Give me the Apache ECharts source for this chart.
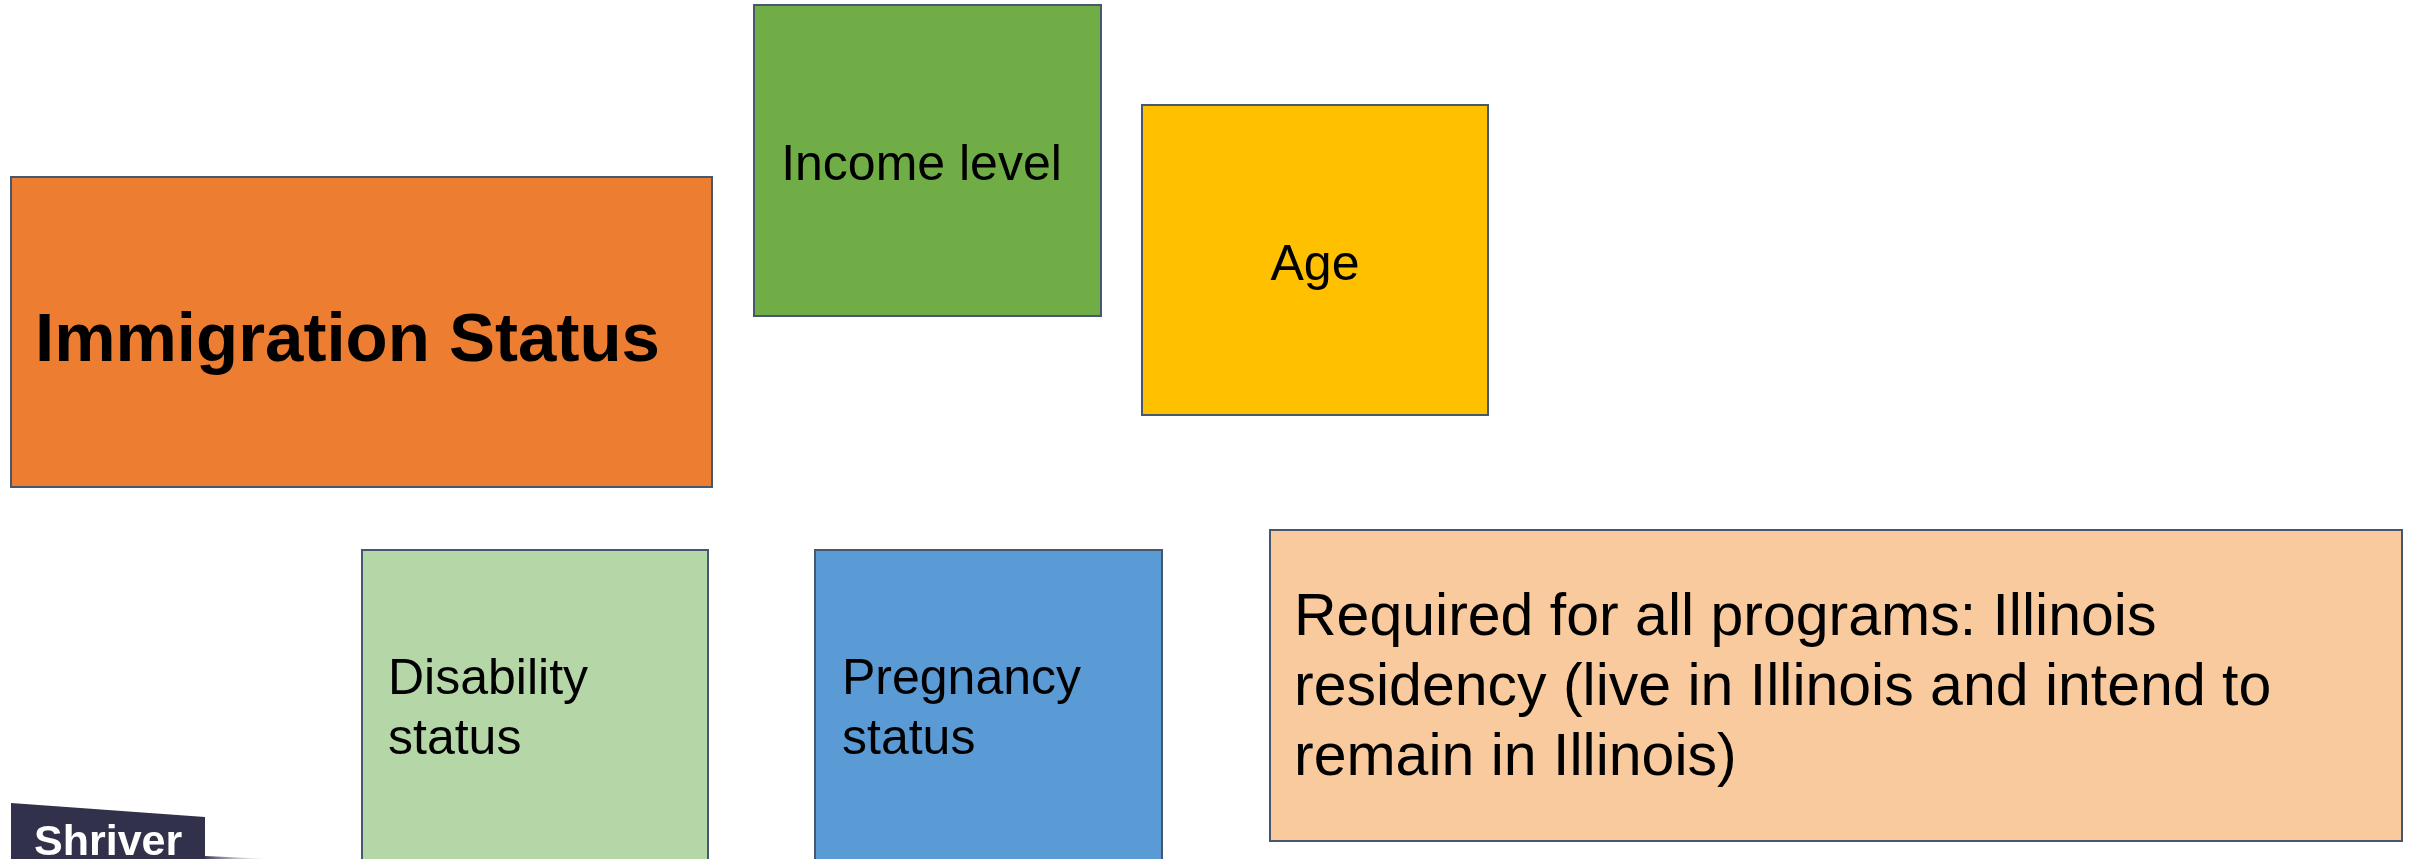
<!DOCTYPE html>
<html>
<head>
<meta charset="utf-8">
<style>
  html, body { margin: 0; padding: 0; background: #ffffff; }
  #chart { width: 2417px; height: 859px; }
</style>
<script src="https://cdn.jsdelivr.net/npm/echarts@6/dist/echarts.min.js"></script>
</head>
<body>
<div id="chart"></div>
<script>
// slide is laid out in its own pixel units, x 0..2417 and y 0..859 (top down)
const labels = [
  "Immigration Status",
  "Income level",
  "Age",
  "Disability\nstatus",
  "Pregnancy\nstatus",
  "Required for all programs: Illinois\nresidency (live in Illinois and intend to\nremain in Illinois)"
];
// box extents: [x0, y0, x1, y1]
const boxes = [
  [11, 177, 712, 487],
  [754, 5, 1101, 316],
  [1142, 105, 1488, 415],
  [362, 550, 708, 866],
  [815, 550, 1162, 866],
  [1270, 530, 2402, 841]
];
const fills = ["#ED7D31", "#70AD47", "#FFC000", "#B5D7A8", "#5B9BD5", "#F8CA9D"];
// how each label sits in its box
const textAlign = ["left", "center", "center", "left", "left", "left"];
const fontSizes = [69, 50, 50, 50, 50, 59];
const lineHeights = [84, 60, 60, 60, 60, 70];
const bold = [true, false, false, false, false, false];
const padLeft = [24, 0, 0, 26, 27, 24];
const nudgeX = [0, -6, 0, 0, 0, 0];
const nudgeY = [10, 6, 6, 2, 2, 3];

const logoText = "Shriver";

const FONT = '"Liberation Sans", Arial, Helvetica, sans-serif';

const chart = echarts.init(document.getElementById("chart"));

function renderBox(params, api) {
  const i = params.dataIndex;
  const b = boxes[i];
  const p0 = api.coord([b[0], b[1]]);
  const p1 = api.coord([b[2], b[3]]);
  const x = Math.min(p0[0], p1[0]);
  const y = Math.min(p0[1], p1[1]);
  const w = Math.abs(p1[0] - p0[0]);
  const h = Math.abs(p1[1] - p0[1]);
  const centered = textAlign[i] === "center";
  return {
    type: "group",
    children: [
      {
        type: "rect",
        shape: { x: x, y: y, width: w, height: h },
        style: { fill: fills[i], stroke: "#465870", lineWidth: 2 }
      },
      {
        type: "text",
        style: {
          text: labels[i],
          x: (centered ? x + w / 2 : x + padLeft[i]) + nudgeX[i],
          y: y + h / 2 + nudgeY[i],
          align: centered ? "center" : "left",
          verticalAlign: "middle",
          font: (bold[i] ? "bold " : "") + fontSizes[i] + "px " + FONT,
          lineHeight: lineHeights[i],
          fill: "#000000"
        }
      }
    ]
  };
}

function renderLogo(params, api) {
  const a = api.coord([11, 803]);
  const b = api.coord([205, 817]);
  const c = api.coord([205, 862]);
  const d = api.coord([11, 862]);
  const g0 = api.coord([205, 856]);
  const g1 = api.coord([272, 859]);
  const t = api.coord([34, 843]);
  return {
    type: "group",
    children: [
      {
        type: "polygon",
        shape: { points: [a, b, c, d] },
        style: { fill: "#31314b" }
      },
      {
        type: "polygon",
        shape: { points: [g0, g1, [g1[0], g1[1] + 3], [g0[0], g0[1] + 6]] },
        style: {
          fill: new echarts.graphic.LinearGradient(0, 0, 1, 0, [
            { offset: 0, color: "#3c3c55" },
            { offset: 1, color: "rgba(200,200,210,0)" }
          ])
        }
      },
      {
        type: "text",
        style: {
          text: logoText,
          x: t[0],
          y: t[1],
          align: "left",
          verticalAlign: "middle",
          font: "bold 43px " + FONT,
          fill: "#ffffff"
        }
      }
    ]
  };
}

chart.setOption({
  animation: false,
  backgroundColor: "#ffffff",
  grid: { left: 0, right: 0, top: 0, bottom: 0 },
  xAxis: { type: "value", min: 0, max: 2417, show: false },
  yAxis: { type: "value", min: 0, max: 859, inverse: true, show: false },
  series: [
    {
      type: "custom",
      renderItem: renderBox,
      clip: false,
      data: labels.map((l, i) => [boxes[i][0], boxes[i][1]])
    },
    {
      type: "custom",
      renderItem: renderLogo,
      clip: false,
      data: [[11, 803]]
    }
  ]
});
</script>
</body>
</html>
